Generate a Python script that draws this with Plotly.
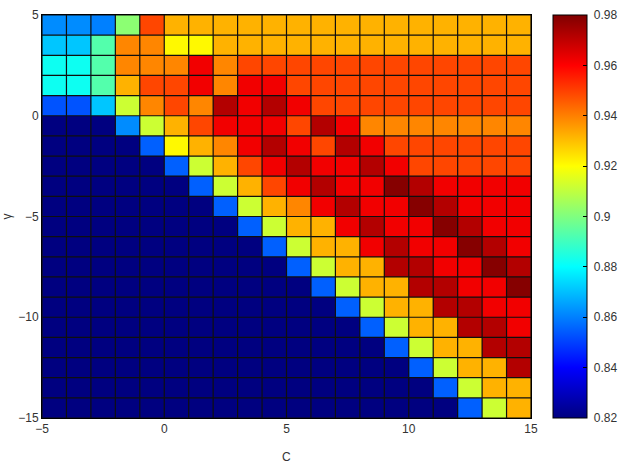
import plotly.graph_objects as go

# Cell centres (pcolor cells of width 1)
c_values = [-4.5 + i for i in range(20)]          # C axis
gamma_values = [4.5 - j for j in range(20)]       # gamma axis, top to bottom

# Accuracy, one row per gamma cell (top row first)
accuracy = [
    [0.862, 0.862, 0.860, 0.902, 0.949] + [0.932] * 15,
    [0.871, 0.871, 0.893, 0.939, 0.939, 0.921, 0.921] + [0.932] * 13,
    [0.882, 0.882, 0.893, 0.939, 0.939, 0.939, 0.962, 0.939] + [0.949] * 12,
    [0.882, 0.882, 0.893, 0.932, 0.949, 0.949, 0.962, 0.939, 0.962, 0.962] + [0.949] * 10,
    [0.853, 0.853, 0.871, 0.912, 0.939, 0.949, 0.939, 0.972, 0.962, 0.972, 0.962] + [0.949] * 9,
    [0.82] * 3 + [0.862, 0.912, 0.932, 0.949, 0.962, 0.962, 0.962, 0.949, 0.972, 0.962] + [0.939] * 7,
    [0.82] * 4 + [0.855, 0.921, 0.932, 0.939, 0.962, 0.972, 0.962, 0.949, 0.972, 0.962] + [0.949] * 6,
    [0.82] * 5 + [0.855, 0.912, 0.932, 0.949, 0.962, 0.972, 0.962, 0.962, 0.972, 0.962] + [0.949] * 5,
    [0.82] * 6 + [0.855, 0.912, 0.932, 0.949, 0.962, 0.972, 0.962, 0.962, 0.979, 0.972, 0.962, 0.962, 0.962, 0.962],
    [0.82] * 7 + [0.855, 0.912, 0.932, 0.939, 0.962, 0.972, 0.962, 0.962, 0.979, 0.972, 0.962, 0.962, 0.962],
    [0.82] * 8 + [0.855, 0.912, 0.932, 0.932, 0.962, 0.972, 0.962, 0.962, 0.979, 0.972, 0.962, 0.962],
    [0.82] * 9 + [0.855, 0.912, 0.932, 0.932, 0.962, 0.972, 0.962, 0.962, 0.979, 0.972, 0.962],
    [0.82] * 10 + [0.855, 0.912, 0.932, 0.932, 0.972, 0.972, 0.962, 0.962, 0.979, 0.972],
    [0.82] * 11 + [0.855, 0.912, 0.932, 0.932, 0.972, 0.972, 0.962, 0.962, 0.979],
    [0.82] * 12 + [0.855, 0.912, 0.932, 0.932, 0.972, 0.972, 0.962, 0.962],
    [0.82] * 13 + [0.855, 0.912, 0.932, 0.932, 0.972, 0.972, 0.962],
    [0.82] * 14 + [0.855, 0.912, 0.932, 0.932, 0.972, 0.972],
    [0.82] * 15 + [0.855, 0.912, 0.932, 0.932, 0.972],
    [0.82] * 16 + [0.855, 0.912, 0.932, 0.932],
    [0.82] * 17 + [0.855, 0.912, 0.932],
]

x_ticks = [-5, 0, 5, 10, 15]
y_ticks = [-15, -10, -5, 0, 5]
cbar_ticks = [0.82, 0.84, 0.86, 0.88, 0.9, 0.92, 0.94, 0.96, 0.98]
cbar_labels = ["0.82", "0.84", "0.86", "0.88", "0.9", "0.92", "0.94", "0.96", "0.98"]

jet = [
    [0.0, "rgb(0,0,128)"],
    [0.125, "rgb(0,0,255)"],
    [0.375, "rgb(0,255,255)"],
    [0.625, "rgb(255,255,0)"],
    [0.875, "rgb(255,0,0)"],
    [1.0, "rgb(128,0,0)"],
]

W, H = 630, 464
L, R, T, B = 42, 531, 8, 418
pw, ph = R - L, B - T

font = dict(family="Liberation Sans, Arial, sans-serif", size=12, color="#333333")

fig = go.Figure(go.Heatmap(
    x=c_values, y=gamma_values, z=accuracy,
    zmin=0.82, zmax=0.98, colorscale=jet,
    colorbar=dict(
        x=(553 - L) / pw, xanchor="left", xpad=0,
        y=0.5, yanchor="middle", len=1, lenmode="fraction", ypad=0,
        thickness=34, thicknessmode="pixels",
        outlinewidth=1, outlinecolor="black",
        tickvals=cbar_ticks, ticktext=[" " + t for t in cbar_labels],
        ticks="inside", ticklen=4, tickcolor="black",
        tickfont=font,
    ),
))

# cell edge lines (pcolor edges)
x_edges = [c - 0.5 for c in c_values] + [c_values[-1] + 0.5]
y_edges = [g + 0.5 for g in gamma_values] + [gamma_values[-1] - 0.5]
shapes = []
for xe in x_edges:
    shapes.append(dict(type="line", xref="x", yref="y", x0=xe, x1=xe,
                       y0=y_edges[-1], y1=y_edges[0], layer="above",
                       line=dict(color="rgb(15,15,15)", width=1.2)))
for ye in y_edges:
    shapes.append(dict(type="line", xref="x", yref="y", y0=ye, y1=ye,
                       x0=x_edges[0], x1=x_edges[-1], layer="above",
                       line=dict(color="rgb(15,15,15)", width=1.2)))

fig.update_layout(
    width=W, height=H,
    margin=dict(l=L, r=W - R, t=T, b=H - B),
    paper_bgcolor="white", plot_bgcolor="white",
    font=font,
    shapes=shapes,
    xaxis=dict(range=[-5, 15], tickvals=x_ticks, ticks="", showgrid=False, zeroline=False,
               showline=True, linecolor="black", linewidth=1, mirror=True, tickfont=font),
    yaxis=dict(range=[-15, 5], tickvals=y_ticks, ticks="", showgrid=False, zeroline=False,
               showline=True, linecolor="black", linewidth=1, mirror=True, tickfont=font),
    annotations=[
        dict(text="C", xref="paper", yref="paper", x=0.5, y=(B - 458) / ph,
             xanchor="center", yanchor="middle", showarrow=False, font=font),
        dict(text="γ", xref="paper", yref="paper", x=(6 - L) / pw, y=0.5,
             xanchor="center", yanchor="middle", showarrow=False, textangle=-90, font=font),
    ],
)

fig.write_html("out.html")
